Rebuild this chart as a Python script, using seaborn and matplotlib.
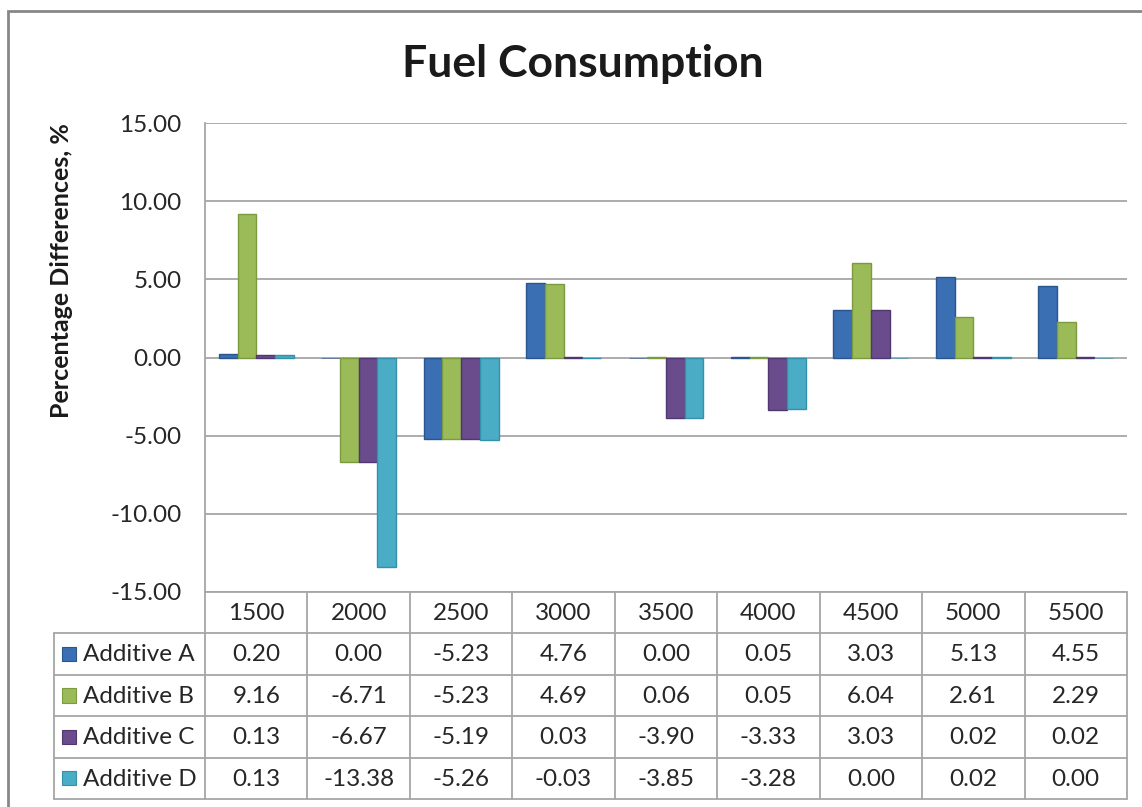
import matplotlib
matplotlib.use("Agg")
import matplotlib.pyplot as plt
from matplotlib.patches import Rectangle
from matplotlib.ticker import FormatStrFormatter, MultipleLocator
import pandas as pd
import seaborn as sns

# Engine speed (rpm) and percentage difference in fuel consumption per additive
rpm = ["1500", "2000", "2500", "3000", "3500", "4000", "4500", "5000", "5500"]
additives = ["Additive A", "Additive B", "Additive C", "Additive D"]
additive_a = [0.20, 0.00, -5.23, 4.76, 0.00, 0.05, 3.03, 5.13, 4.55]
additive_b = [9.16, -6.71, -5.23, 4.69, 0.06, 0.05, 6.04, 2.61, 2.29]
additive_c = [0.13, -6.67, -5.19, 0.03, -3.90, -3.33, 3.03, 0.02, 0.02]
additive_d = [0.13, -13.38, -5.26, -0.03, -3.85, -3.28, 0.00, 0.02, 0.00]
colors = ["#3A6FB3", "#9BBB59", "#6A4C8C", "#4BACC6"]
edge_colors = ["#2A558E", "#7C9A40", "#4F3770", "#3590A9"]

sns.set_theme(style="white")
plt.rcParams["font.family"] = ["Lato", "DejaVu Sans"]
plt.rcParams["axes.unicode_minus"] = False
text_color = "#262626"
line_color = "#A6A6A6"
fs = 17.5

W, H = 1142, 807
fig = plt.figure(figsize=(W / 100, H / 100), dpi=100)


def fx(px):
    return px / W


def fy(py):
    return 1 - py / H


left, right, top, bottom = 205, 1127, 123, 592
ax = fig.add_axes([fx(left), fy(bottom), fx(right) - fx(left), fy(top) - fy(bottom)])

df = pd.DataFrame({"rpm": rpm, "Additive A": additive_a, "Additive B": additive_b,
                   "Additive C": additive_c, "Additive D": additive_d})
long = df.melt(id_vars="rpm", var_name="additive", value_name="value")

sns.barplot(data=long, x="rpm", y="value", hue="additive", order=rpm,
            hue_order=additives, palette=colors, saturation=1, width=0.73,
            ax=ax, legend=False, linewidth=1.0)
for container, ec in zip(ax.containers, edge_colors):
    for bar in container:
        bar.set_edgecolor(ec)
        if bar.get_height() == 0:
            bar.set_linewidth(0.4)

ax.set_xlim(-0.5, 8.5)
ax.set_ylim(-15, 15)
ax.yaxis.set_major_locator(MultipleLocator(5))
ax.yaxis.set_major_formatter(FormatStrFormatter("%.2f"))
ax.yaxis.grid(True, color=line_color, linewidth=1.3)
ax.set_axisbelow(True)
ax.set_xticks([])
ax.set_xlabel("")
ax.set_ylabel("")
ax.tick_params(axis="y", length=0, pad=17, labelsize=fs, labelcolor=text_color)
for side in ["top", "right", "bottom"]:
    ax.spines[side].set_visible(False)
ax.spines["left"].set_color(line_color)
ax.spines["left"].set_linewidth(1.3)

# Data table under the plot, columns aligned with the categories
tax = fig.add_axes([fx(54), fy(799), fx(1127) - fx(54), fy(592) - fy(799)])
col_w = (right - left) / 9
xl = -0.5 - (left - 54) / col_w
tax.set_xlim(xl, 8.5)
tax.set_ylim(5, 0)
tax.axis("off")

lw = 1.3
tax.plot([-0.5, 8.5], [0, 0], color=line_color, lw=lw, clip_on=False)
for r in range(1, 6):
    tax.plot([xl, 8.5], [r, r], color=line_color, lw=lw, clip_on=False)
tax.plot([xl, xl], [1, 5], color=line_color, lw=lw, clip_on=False)
for k in range(10):
    tax.plot([k - 0.5, k - 0.5], [0, 5], color=line_color, lw=lw, clip_on=False)

for i, label in enumerate(rpm):
    tax.text(i, 0.52, label, ha="center", va="center", fontsize=fs, color=text_color)

series = [additive_a, additive_b, additive_c, additive_d]
sq = 14 / col_w
for r, (name, vals, c, ec) in enumerate(zip(additives, series, colors, edge_colors)):
    y = r + 1.5
    x0 = xl + (62 - 54) / col_w
    tax.add_patch(Rectangle((x0, y - 0.17), sq, 0.34, facecolor=c, edgecolor=ec, lw=0.8))
    tax.text(xl + (83 - 54) / col_w, y + 0.02, name, ha="left", va="center",
             fontsize=fs, color=text_color)
    for i, v in enumerate(vals):
        tax.text(i, y + 0.02, f"{v:.2f}", ha="center", va="center",
                 fontsize=fs, color=text_color)

fig.text(fx(583), fy(64), "Fuel Consumption", ha="center", va="center",
         fontsize=32, fontweight="bold", color="#1A1A1A")
fig.text(fx(62), fy(271), "Percentage Differences, %", ha="center", va="center",
         rotation=90, fontsize=18, fontweight="bold", color="#1A1A1A")

# Chart area frame
fig.add_artist(Rectangle((fx(8), -0.1), 1.2, fy(11) + 0.1, transform=fig.transFigure,
                         fill=False, edgecolor="#878787", lw=2))

fig.savefig("out.png", dpi=100)
